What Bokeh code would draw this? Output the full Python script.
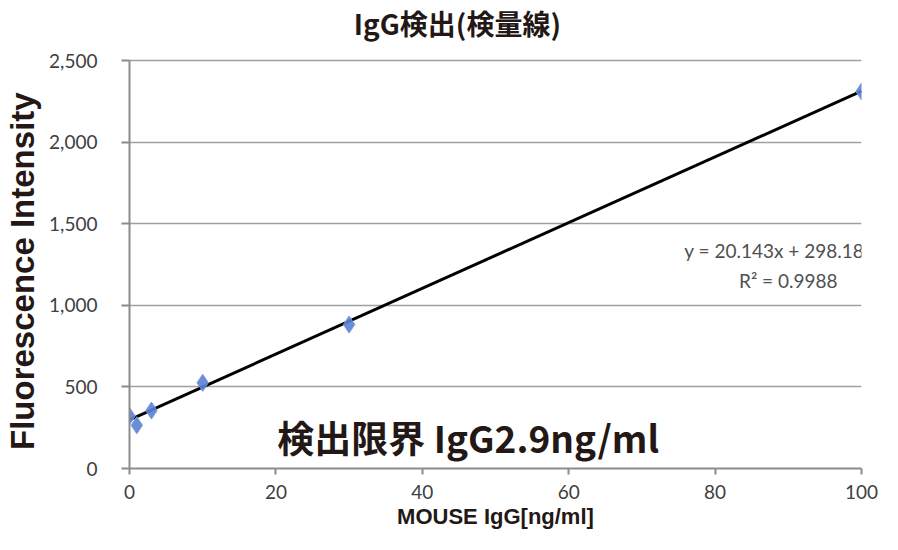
from bokeh.plotting import figure
from bokeh.models import Range1d, FixedTicker, NumeralTickFormatter, Label, ColumnDataSource
from bokeh.embed import file_html
from bokeh.resources import INLINE

# data
conc = [0, 1, 3, 10, 30, 100]
intensity = [322, 265, 355, 525, 882, 2310]
slope = 20.143
intercept = 298.18
x_ticks = [0, 20, 40, 60, 80, 100]
y_ticks = [0, 500, 1000, 1500, 2000, 2500]
title_text = "IgG検出(検量線)"
x_label = "MOUSE IgG[ng/ml]"
y_label = "Fluorescence Intensity"
eq_text = "y = 20.143x + 298.18"
r2_text = "R² = 0.9988"
lod_text = "検出限界 IgG2.9ng/ml"

x_min, x_max = 0, 100
y_min, y_max = 0, 2500
# the plot frame reaches up to the canvas top, so that the title can sit inside it
y_top = y_max * 468 / 408

fit_x = [min(conc), max(conc)]
fit_y = [slope * v + intercept for v in fit_x]

p = figure(width=882, height=534, output_backend="svg", toolbar_location=None,
           x_range=Range1d(x_min, x_max), y_range=Range1d(y_min, y_top),
           min_border_left=129, min_border_right=21, min_border_top=0, min_border_bottom=66)
p.outline_line_color = None
p.background_fill_color = "white"

# grid
p.xgrid.visible = False
p.ygrid.grid_line_color = "#a0a0a0"
p.ygrid.grid_line_width = 1.5

# axes
for ax in (p.xaxis, p.yaxis):
    ax.axis_line_color = "#8c8c8c"
    ax.axis_line_width = 2
    ax.major_tick_line_color = "#8c8c8c"
    ax.major_tick_line_width = 2
    ax.minor_tick_line_color = None
    ax.major_tick_in = 0
    ax.major_label_text_font = "Lato"
    ax.major_label_text_font_size = "19px"
    ax.major_label_text_color = "#404040"
    ax.axis_label_text_font = "Liberation Sans"
    ax.axis_label_text_font_style = "bold"
    ax.axis_label_text_color = "#231815"

p.xaxis.ticker = FixedTicker(ticks=x_ticks)
p.xaxis.major_tick_out = 6
p.xaxis.major_label_standoff = 10
p.xaxis.axis_label = x_label
p.xaxis.axis_label_text_font_size = "22px"
p.xaxis.axis_label_standoff = 2

p.yaxis.ticker = FixedTicker(ticks=y_ticks)
p.yaxis.bounds = (y_min, y_max)
p.yaxis.formatter = NumeralTickFormatter(format="0,0")
p.yaxis.major_tick_out = 8
p.yaxis.major_label_standoff = 24
# trailing no-break spaces move the centred label down to the middle of the 0-2,500 span
p.yaxis.axis_label = y_label + "\u00a0" * 8
p.yaxis.axis_label_text_font_size = "33px"
p.yaxis.axis_label_standoff = 5

# trend line
p.line(fit_x, fit_y, line_color="black", line_width=3)

# data markers
src = ColumnDataSource(dict(x=conc, y=intensity))
p.scatter("x", "y", source=src, marker="diamond", size=17,
          fill_color="#5b7fd2", line_color="#7a98e0", line_width=1, fill_alpha=0.9)

# title (inside the extended frame, above the 2,500 gridline)
p.add_layout(Label(x=44.8, y=2730, text=title_text, text_font="Noto Sans CJK JP", text_font_size="28px",
                   text_font_style="bold", text_color="#231815", text_baseline="middle", text_align="center"))

# annotations
p.add_layout(Label(x=75.8, y=1336, text=eq_text, text_font="Lato", text_font_size="19px",
                   text_color="#505050", text_baseline="middle", text_align="left"))
p.add_layout(Label(x=90.0, y=1152, text=r2_text, text_font="Lato", text_font_size="19px",
                   text_color="#505050", text_baseline="middle", text_align="center"))
p.add_layout(Label(x=20.2, y=190, text=lod_text, text_font="Noto Sans CJK JP", text_font_size="37px",
                   text_font_style="bold", text_color="#231815", text_baseline="middle", text_align="left"))

open("out.html", "w").write(file_html(p, INLINE))
